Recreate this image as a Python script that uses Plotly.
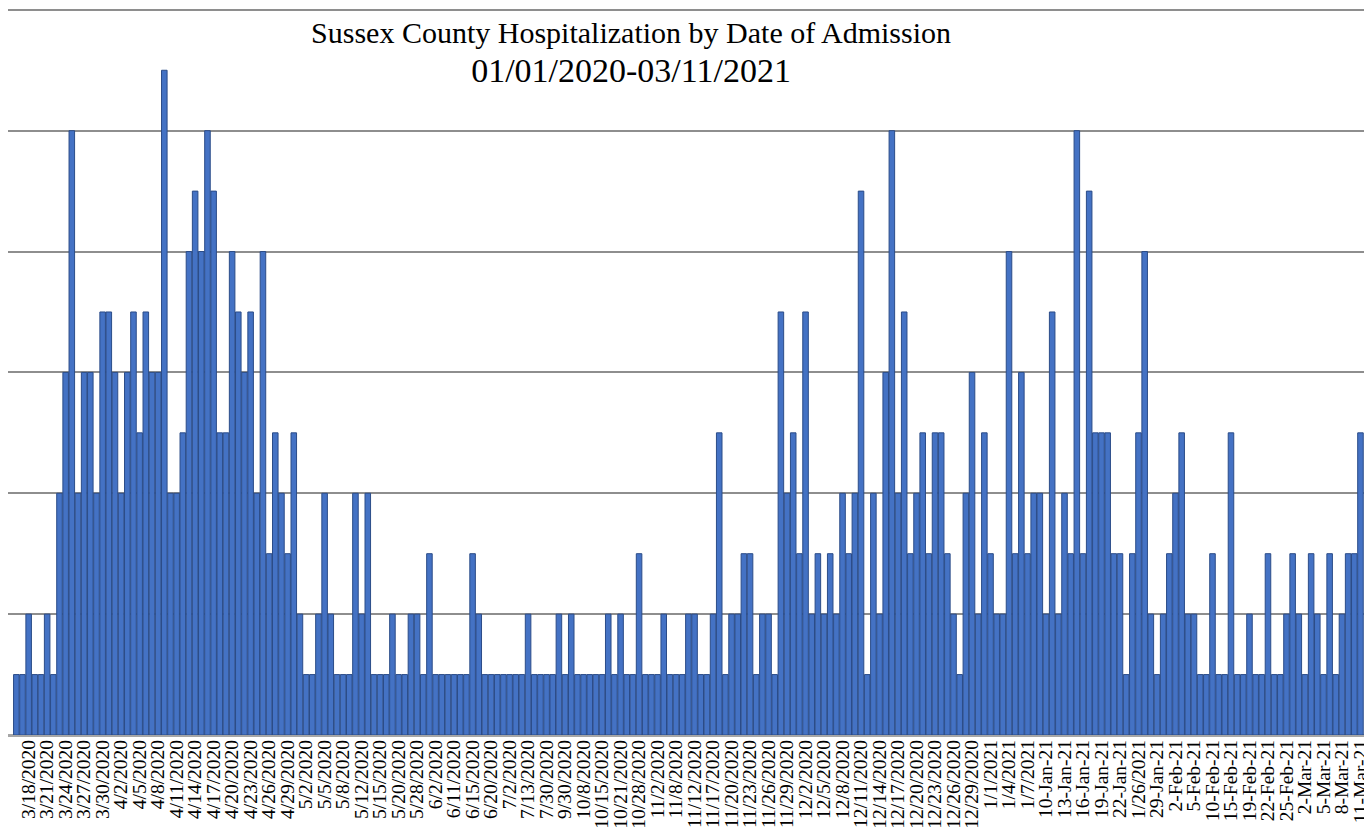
import plotly.graph_objects as go

tick_labels = [
    "3/18/2020", "3/21/2020", "3/24/2020", "3/27/2020", "3/30/2020",
    "4/2/2020", "4/5/2020", "4/8/2020", "4/11/2020", "4/14/2020", "4/17/2020",
    "4/20/2020", "4/23/2020", "4/26/2020", "4/29/2020",
    "5/2/2020", "5/5/2020", "5/8/2020", "5/12/2020", "5/15/2020", "5/20/2020", "5/28/2020",
    "6/2/2020", "6/11/2020", "6/15/2020", "6/20/2020",
    "7/2/2020", "7/13/2020", "7/30/2020", "9/30/2020",
    "10/8/2020", "10/15/2020", "10/21/2020", "10/28/2020",
    "11/2/2020", "11/8/2020", "11/12/2020", "11/17/2020", "11/20/2020", "11/23/2020",
    "11/26/2020", "11/29/2020",
    "12/2/2020", "12/5/2020", "12/8/2020", "12/11/2020", "12/14/2020", "12/17/2020",
    "12/20/2020", "12/23/2020", "12/26/2020", "12/29/2020",
    "1/1/2021", "1/4/2021", "1/7/2021", "10-Jan-21", "13-Jan-21", "16-Jan-21",
    "19-Jan-21", "22-Jan-21", "1/26/2021", "29-Jan-21",
    "2-Feb-21", "5-Feb-21", "10-Feb-21", "15-Feb-21", "19-Feb-21", "22-Feb-21", "25-Feb-21",
    "2-Mar-21", "5-Mar-21", "8-Mar-21", "11-Mar-21",
]

categories = [
    "3/16/2020", "3/17/2020",
    "3/18/2020", "3/19/2020", "3/20/2020",
    "3/21/2020", "3/22/2020", "3/23/2020",
    "3/24/2020", "3/25/2020", "3/26/2020",
    "3/27/2020", "3/28/2020", "3/29/2020",
    "3/30/2020", "3/31/2020", "4/1/2020",
    "4/2/2020", "4/3/2020", "4/4/2020",
    "4/5/2020", "4/6/2020", "4/7/2020",
    "4/8/2020", "4/9/2020", "4/10/2020",
    "4/11/2020", "4/12/2020", "4/13/2020",
    "4/14/2020", "4/15/2020", "4/16/2020",
    "4/17/2020", "4/18/2020", "4/19/2020",
    "4/20/2020", "4/21/2020", "4/22/2020",
    "4/23/2020", "4/24/2020", "4/25/2020",
    "4/26/2020", "4/27/2020", "4/28/2020",
    "4/29/2020", "4/30/2020", "5/1/2020",
    "5/2/2020", "5/3/2020", "5/4/2020",
    "5/5/2020", "5/6/2020", "5/7/2020",
    "5/8/2020", "5/10/2020", "5/11/2020",
    "5/12/2020", "5/13/2020", "5/14/2020",
    "5/15/2020", "5/17/2020", "5/18/2020",
    "5/20/2020", "5/22/2020", "5/26/2020",
    "5/28/2020", "5/30/2020", "6/1/2020",
    "6/2/2020", "6/5/2020", "6/9/2020",
    "6/11/2020", "6/12/2020", "6/14/2020",
    "6/15/2020", "6/17/2020", "6/18/2020",
    "6/20/2020", "6/24/2020", "6/28/2020",
    "7/2/2020", "7/7/2020", "7/10/2020",
    "7/13/2020", "7/20/2020", "7/24/2020",
    "7/30/2020", "8/18/2020", "9/15/2020",
    "9/30/2020", "10/3/2020", "10/6/2020",
    "10/8/2020", "10/12/2020", "10/14/2020",
    "10/15/2020", "10/17/2020", "10/19/2020",
    "10/21/2020", "10/23/2020", "10/26/2020",
    "10/28/2020", "10/30/2020", "11/1/2020",
    "11/2/2020", "11/4/2020", "11/6/2020",
    "11/8/2020", "11/10/2020", "11/11/2020",
    "11/12/2020", "11/14/2020", "11/16/2020",
    "11/17/2020", "11/18/2020", "11/19/2020",
    "11/20/2020", "11/21/2020", "11/22/2020",
    "11/23/2020", "11/24/2020", "11/25/2020",
    "11/26/2020", "11/27/2020", "11/28/2020",
    "11/29/2020", "11/30/2020", "12/1/2020",
    "12/2/2020", "12/3/2020", "12/4/2020",
    "12/5/2020", "12/6/2020", "12/7/2020",
    "12/8/2020", "12/9/2020", "12/10/2020",
    "12/11/2020", "12/12/2020", "12/13/2020",
    "12/14/2020", "12/15/2020", "12/16/2020",
    "12/17/2020", "12/18/2020", "12/19/2020",
    "12/20/2020", "12/21/2020", "12/22/2020",
    "12/23/2020", "12/24/2020", "12/25/2020",
    "12/26/2020", "12/27/2020", "12/28/2020",
    "12/29/2020", "12/30/2020", "12/31/2020",
    "1/1/2021", "1/2/2021", "1/3/2021",
    "1/4/2021", "1/5/2021", "1/6/2021",
    "1/7/2021", "8-Jan-21", "9-Jan-21",
    "10-Jan-21", "11-Jan-21", "12-Jan-21",
    "13-Jan-21", "14-Jan-21", "15-Jan-21",
    "16-Jan-21", "17-Jan-21", "18-Jan-21",
    "19-Jan-21", "20-Jan-21", "21-Jan-21",
    "22-Jan-21", "24-Jan-21", "25-Jan-21",
    "1/26/2021", "27-Jan-21", "28-Jan-21",
    "29-Jan-21", "30-Jan-21", "1-Feb-21",
    "2-Feb-21", "3-Feb-21", "4-Feb-21",
    "5-Feb-21", "7-Feb-21", "9-Feb-21",
    "10-Feb-21", "11-Feb-21", "12-Feb-21",
    "15-Feb-21", "16-Feb-21", "17-Feb-21",
    "19-Feb-21", "20-Feb-21", "21-Feb-21",
    "22-Feb-21", "23-Feb-21", "24-Feb-21",
    "25-Feb-21", "26-Feb-21", "1-Mar-21",
    "2-Mar-21", "3-Mar-21", "4-Mar-21",
    "5-Mar-21", "6-Mar-21", "7-Mar-21",
    "8-Mar-21", "9-Mar-21", "10-Mar-21",
    "11-Mar-21",
]

admissions = [
    1, 1, 2, 1, 1, 2, 1, 4, 6, 10, 4, 6, 6, 4, 7, 7, 6, 4, 6, 7, 5, 7, 6, 6, 11, 4, 4, 5,
    8, 9, 8, 10, 9, 5, 5, 8, 7,
    6, 7, 4, 8, 3, 5, 4, 3, 5, 2, 1, 1, 2, 4, 2, 1, 1, 1, 4, 2, 4, 1, 1, 1, 2, 1, 1, 2, 2,
    1, 3, 1, 1, 1, 1, 1, 1,
    3, 2, 1, 1, 1, 1, 1, 1, 1, 2, 1, 1, 1, 1, 2, 1, 2, 1, 1, 1, 1, 1, 2, 1, 2, 1, 1, 3,
    1, 1, 1, 2, 1, 1, 1, 2, 2,
    1, 1, 2, 5, 1, 2, 2, 3, 3, 1, 2, 2, 1, 7, 4, 5, 3, 7, 2, 3, 2, 3, 2, 4, 3, 4, 9, 1,
    4, 2, 6, 10, 4, 7, 3, 4, 5, 3,
    5, 5, 3, 2, 1, 4, 6, 2, 5, 3, 2, 2, 8, 3, 6, 3, 4, 4, 2, 7, 2, 4, 3, 10, 3, 9, 5, 5,
    5, 3, 3, 1, 3, 5, 8, 2, 1,
    2, 3, 4, 5, 2, 2, 1, 1, 3, 1, 1, 5, 1, 1, 2, 1, 1, 3, 1, 1, 2, 3, 2, 1, 3, 2, 1, 3,
    1, 2, 3, 3, 5,
]

title_line1 = "Sussex County Hospitalization by Date of Admission"
title_line2 = "01/01/2020-03/11/2021"

SERIF = "Liberation Serif, Times New Roman, serif"

fig = go.Figure()
fig.add_trace(go.Bar(
    x=categories,
    y=admissions,
    marker=dict(color="#4472C4", line=dict(color="#2B4C88", width=1)),
    hoverinfo="x+y",
))

# The page body has an 8px default margin, so the figure is sized 8px smaller
# than the window and everything is laid out relative to that offset.
fig.update_layout(
    width=1364,
    height=824,
    margin=dict(l=0, r=0, t=0, b=97),
    paper_bgcolor="white",
    plot_bgcolor="white",
    bargap=0.1,
    showlegend=False,
    font=dict(family=SERIF, color="black"),
    title=dict(
        text=title_line1 + "<br><span style='font-size:34px'>" + title_line2 + "</span>",
        x=0.4568, xanchor="center", xref="container",
        y=0.958, yanchor="top", yref="container",
        font=dict(family=SERIF, size=30, color="black"),
    ),
    xaxis=dict(
        type="category",
        categoryorder="array",
        categoryarray=categories,
        range=[-1.35, len(categories) + 0.87],
        tickmode="array",
        tickvals=tick_labels,
        ticktext=tick_labels,
        tickangle=-90,
        tickfont=dict(family=SERIF, size=19.5, color="black"),
        showgrid=False,
        showline=False,
        ticks="",
        automargin=False,
    ),
    yaxis=dict(
        range=[0, 12.03],
        tickmode="array",
        tickvals=[2, 4, 6, 8, 10, 12],
        showticklabels=False,
        showgrid=True,
        gridcolor="#8E8E8E",
        gridwidth=2,
        zeroline=True,
        zerolinecolor="#A6A6A6",
        zerolinewidth=3,
        ticks="",
        automargin=False,
    ),
)

fig.write_html("out.html")
